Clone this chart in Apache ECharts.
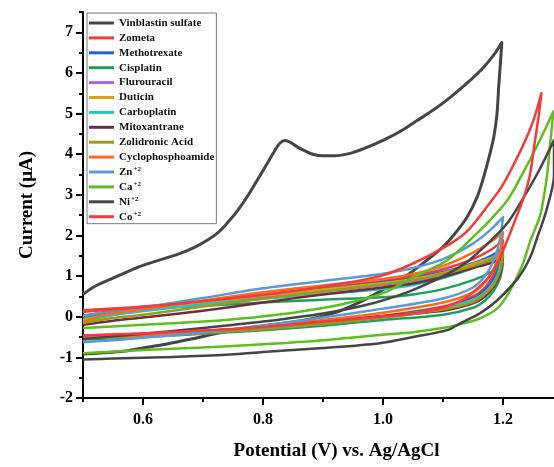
<!DOCTYPE html>
<html>
<head>
<meta charset="utf-8">
<script src="https://cdn.jsdelivr.net/npm/echarts@6/dist/echarts.min.js"></script>
<style>html,body{margin:0;padding:0;background:#fff}#c{width:554px;height:467px}</style>
</head>
<body>
<div id="c"></div>
<script>
// Each loop: forward (upper) scan then reverse (lower) scan, as [potential V, current µA]
const vinblastin = [[0.5,0.55],[0.52,0.75],[0.55,0.95],[0.58,1.15],[0.607,1.3],[0.635,1.43],[0.662,1.56],[0.685,1.7],[0.707,1.88],[0.725,2.07],[0.74,2.3],[0.757,2.6],[0.773,2.94],[0.79,3.35],[0.807,3.77],[0.818,4.05],[0.828,4.27],[0.837,4.34],[0.847,4.28],[0.857,4.18],[0.87,4.08],[0.883,4.0],[0.9,3.96],[0.92,3.96],[0.945,4.02],[0.97,4.15],[1.0,4.34],[1.03,4.57],[1.057,4.83],[1.085,5.1],[1.112,5.4],[1.14,5.75],[1.167,6.13],[1.185,6.45],[1.198,6.75],
  [1.196,6.3],[1.193,5.7],[1.19,5.0],[1.185,4.45],[1.178,4.0],[1.168,3.45],[1.157,2.95],[1.14,2.45],[1.12,2.05],[1.1,1.72],[1.067,1.32],[1.04,1.02],[1.012,0.77],[0.98,0.5],[0.95,0.28],[0.92,0.1],[0.883,-0.04],[0.84,-0.15],[0.8,-0.22],[0.762,-0.3],[0.72,-0.42],[0.68,-0.55],[0.64,-0.67],[0.6,-0.77],[0.567,-0.85],[0.53,-0.89],[0.5,-0.92]];
const zometa = [[0.5,0.16],[0.55,0.2],[0.6,0.25],[0.7,0.38],[0.8,0.53],[0.9,0.7],[1.0,0.88],[1.05,1.0],[1.1,1.17],[1.15,1.42],[1.18,1.65],[1.2,1.88],
  [1.195,1.45],[1.185,1.05],[1.17,0.72],[1.15,0.5],[1.1,0.25],[1.0,0.02],[0.9,-0.13],[0.8,-0.26],[0.7,-0.35],[0.6,-0.42],[0.5,-0.47]];
const methotrexate = [[0.5,0.03],[0.55,0.13],[0.6,0.2],[0.7,0.36],[0.8,0.52],[0.9,0.68],[1.0,0.85],[1.05,0.95],[1.1,1.1],[1.15,1.32],[1.18,1.5],[1.2,1.7],
  [1.195,1.3],[1.185,0.95],[1.17,0.66],[1.15,0.45],[1.1,0.22],[1.0,0.0],[0.9,-0.15],[0.8,-0.28],[0.7,-0.38],[0.6,-0.46],[0.5,-0.55]];
const cisplatin = [[0.5,-0.05],[0.55,0.12],[0.6,0.2],[0.7,0.27],[0.8,0.35],[0.9,0.42],[1.0,0.48],[1.05,0.55],[1.1,0.68],[1.15,0.9],[1.18,1.1],[1.2,1.3],
  [1.195,0.95],[1.185,0.65],[1.17,0.4],[1.15,0.22],[1.1,0.05],[1.0,-0.08],[0.9,-0.22],[0.8,-0.33],[0.7,-0.42],[0.6,-0.5],[0.5,-0.56]];
const flurouracil = [[0.5,-0.1],[0.55,0.05],[0.6,0.15],[0.7,0.32],[0.8,0.48],[0.9,0.62],[1.0,0.78],[1.05,0.88],[1.1,1.02],[1.15,1.22],[1.18,1.38],[1.2,1.5],
  [1.195,1.1],[1.185,0.8],[1.17,0.55],[1.15,0.38],[1.1,0.18],[1.0,-0.02],[0.9,-0.17],[0.8,-0.3],[0.7,-0.4],[0.6,-0.48],[0.5,-0.53]];
const duticin = [[0.5,-0.08],[0.55,0.08],[0.6,0.18],[0.7,0.35],[0.8,0.52],[0.9,0.67],[1.0,0.83],[1.05,0.93],[1.1,1.08],[1.15,1.3],[1.18,1.45],[1.2,1.6],
  [1.195,1.18],[1.185,0.85],[1.17,0.6],[1.15,0.42],[1.1,0.2],[1.0,0.0],[0.9,-0.16],[0.8,-0.29],[0.7,-0.39],[0.6,-0.47],[0.5,-0.52]];
const carboplatin = [[0.5,-0.12],[0.55,0.04],[0.6,0.14],[0.7,0.3],[0.8,0.44],[0.9,0.56],[1.0,0.68],[1.05,0.78],[1.1,0.95],[1.15,1.2],[1.18,1.42],[1.2,1.64],
  [1.195,1.2],[1.185,0.85],[1.17,0.58],[1.15,0.4],[1.1,0.2],[1.0,0.0],[0.9,-0.15],[0.8,-0.28],[0.7,-0.38],[0.6,-0.46],[0.5,-0.52]];
const mitoxantrane = [[0.5,-0.2],[0.55,-0.1],[0.6,-0.02],[0.7,0.15],[0.8,0.35],[0.9,0.55],[1.0,0.72],[1.05,0.82],[1.1,0.98],[1.15,1.2],[1.18,1.32],[1.2,1.45],
  [1.195,1.05],[1.185,0.75],[1.17,0.5],[1.15,0.33],[1.1,0.15],[1.0,0.02],[0.9,-0.12],[0.8,-0.25],[0.7,-0.36],[0.6,-0.45],[0.5,-0.5]];
const zolidronic = [[0.5,-0.15],[0.55,-0.03],[0.6,0.05],[0.7,0.25],[0.8,0.45],[0.9,0.62],[1.0,0.8],[1.05,0.9],[1.1,1.05],[1.15,1.25],[1.18,1.4],[1.2,1.56],
  [1.195,1.12],[1.185,0.8],[1.17,0.55],[1.15,0.36],[1.1,0.18],[1.0,-0.02],[0.9,-0.18],[0.8,-0.3],[0.7,-0.4],[0.6,-0.48],[0.5,-0.52]];
const cyclophosphoamide = [[0.5,-0.15],[0.52,-0.02],[0.55,0.08],[0.6,0.18],[0.7,0.4],[0.8,0.6],[0.9,0.77],[1.0,0.93],[1.05,1.05],[1.1,1.25],[1.15,1.58],[1.18,1.85],[1.2,2.08],
  [1.195,1.6],[1.185,1.2],[1.17,0.85],[1.15,0.6],[1.1,0.35],[1.0,0.1],[0.9,-0.08],[0.8,-0.24],[0.7,-0.36],[0.6,-0.45],[0.5,-0.5]];
const zinc = [[0.5,0.02],[0.55,0.15],[0.6,0.23],[0.7,0.46],[0.8,0.7],[0.9,0.88],[1.0,1.06],[1.05,1.2],[1.1,1.42],[1.15,1.8],[1.18,2.15],[1.2,2.45],
  [1.195,1.9],[1.185,1.4],[1.17,1.0],[1.15,0.72],[1.1,0.45],[1.0,0.2],[0.9,-0.02],[0.8,-0.22],[0.7,-0.38],[0.6,-0.52],[0.5,-0.63]];
const calcium = [[0.5,-0.28],[0.6,-0.2],[0.7,-0.12],[0.76,-0.05],[0.85,0.1],[0.93,0.3],[1.0,0.58],[1.05,0.97],[1.107,1.39],[1.162,2.13],[1.178,2.37],[1.207,2.86],[1.233,3.53],[1.26,4.3],[1.284,5.05],
  [1.278,4.17],[1.273,3.43],[1.262,2.5],[1.245,1.85],[1.233,1.3],[1.21,0.6],[1.19,0.2],[1.16,-0.05],[1.13,-0.18],[1.107,-0.26],[1.05,-0.38],[0.995,-0.45],[0.9,-0.58],[0.8,-0.68],[0.7,-0.76],[0.6,-0.82],[0.5,-0.9]];
const nickel = [[0.5,-0.55],[0.6,-0.42],[0.7,-0.28],[0.8,-0.12],[0.9,0.08],[0.98,0.32],[1.04,0.6],[1.08,0.85],[1.107,1.05],[1.14,1.35],[1.178,1.85],[1.207,2.3],[1.233,2.9],[1.26,3.6],[1.285,4.35],
  [1.285,3.5],[1.272,2.6],[1.257,1.95],[1.245,1.45],[1.225,0.95],[1.19,0.4],[1.162,0.09],[1.13,-0.15],[1.107,-0.33],[1.05,-0.5],[0.995,-0.65],[0.9,-0.77],[0.8,-0.87],[0.745,-0.93],[0.65,-0.99],[0.55,-1.03],[0.5,-1.05]];
const cobalt = [[0.5,0.12],[0.6,0.24],[0.7,0.38],[0.8,0.54],[0.9,0.74],[0.995,1.0],[1.05,1.31],[1.107,1.75],[1.14,2.1],[1.178,2.8],[1.2,3.25],[1.233,4.2],[1.25,4.8],[1.264,5.5],
  [1.26,5.0],[1.253,4.3],[1.245,3.5],[1.235,2.95],[1.22,2.37],[1.205,1.8],[1.19,1.3],[1.175,0.95],[1.15,0.6],[1.133,0.42],[1.1,0.22],[1.05,0.08],[0.995,0.0],[0.9,-0.12],[0.8,-0.25],[0.7,-0.34],[0.6,-0.41],[0.5,-0.46]];

const seriesNames = ['Vinblastin sulfate','Zometa','Methotrexate','Cisplatin','Flurouracil','Duticin','Carboplatin','Mitoxantrane','Zolidronic Acid','Cyclophosphoamide','Zn+2','Ca+2','Ni+2','Co+2'];
const seriesData = [vinblastin,zometa,methotrexate,cisplatin,flurouracil,duticin,carboplatin,mitoxantrane,zolidronic,cyclophosphoamide,zinc,calcium,nickel,cobalt];
const colors = ['#454545','#f23b3b','#2161d6','#1f9e5c','#b063e0','#d6a11c','#22c6c6','#6e2f3c','#9c9a1c','#ff6a1e','#5b9bd5','#5fbe1e','#454545','#f23b3b'];
const xLabelTicks = [0.6,0.8,1.0,1.2];
const xMinorTicks = [0.5,0.7,0.9,1.1];
const yLabelTicks = [-2,-1,0,1,2,3,4,5,6,7];
const yMinorTicks = [-1.5,-0.5,0.5,1.5,2.5,3.5,4.5,5.5,6.5,7.5];

const FONT = '"Liberation Serif","Times New Roman",serif';
const chart = echarts.init(document.getElementById('c'));
const grid = {left:83, right:0, top:12, bottom:69, containLabel:false};
const xBase = {type:'value', min:0.5, max:1.285, gridIndex:0};
const yBase = {type:'value', min:-2, max:7.5, gridIndex:0};
chart.setOption({
  animation:false,
  backgroundColor:'#fff',
  color: colors,
  grid: grid,
  legend: {
    orient:'vertical', left:87, top:13,
    itemWidth:25, itemHeight:3, itemGap:2.9, icon:'rect',
    padding:[4,2,1,2],
    borderColor:'#777', borderWidth:1,
    textStyle:{fontFamily:FONT, fontWeight:'bold', fontSize:11, color:'#111', lineHeight:12,
      rich:{b:{fontFamily:FONT, fontWeight:'bold', fontSize:11, color:'#111'},
            s:{fontFamily:FONT, fontWeight:'bold', fontSize:7, color:'#111', verticalAlign:'top', padding:[0,0,5,1]}}},
    formatter: function(n){ const m = n.match(/^(\w+)(\+2)$/); return m ? '{b|'+m[1]+'}{s|'+m[2]+'}' : n; },
    data: seriesNames
  },
  xAxis: [
    Object.assign({}, xBase, {
      position:'bottom',
      name:'Potential (V) vs. Ag/AgCl', nameLocation:'middle', nameGap:44,
      nameTextStyle:{fontFamily:FONT, fontWeight:'bold', fontSize:19, color:'#000', padding:[0,0,0,36]},
      axisLine:{onZero:false, lineStyle:{color:'#000', width:2}},
      axisTick:{show:true, inside:false, length:7, lineStyle:{color:'#000', width:2}, customValues:xLabelTicks},
      axisLabel:{fontFamily:FONT, fontWeight:'bold', fontSize:16, color:'#000', margin:14, customValues:xLabelTicks,
        formatter:function(v){return v.toFixed(1);}},
      splitLine:{show:false}
    }),
    Object.assign({}, xBase, {
      position:'bottom',
      axisLine:{show:false, onZero:false},
      axisTick:{show:true, inside:false, length:4, lineStyle:{color:'#000', width:2}, customValues:xMinorTicks},
      axisLabel:{show:false},
      splitLine:{show:false}
    })
  ],
  yAxis: [
    Object.assign({}, yBase, {
      position:'left',
      name:'Current (\u03BCA)', nameLocation:'middle', nameGap:46, nameRotate:90,
      nameTextStyle:{fontFamily:FONT, fontWeight:'bold', fontSize:19, color:'#000'},
      axisLine:{show:true, onZero:false, lineStyle:{color:'#000', width:2}},
      axisTick:{show:true, inside:false, length:7, lineStyle:{color:'#000', width:2}, customValues:yLabelTicks},
      axisLabel:{fontFamily:FONT, fontWeight:'bold', fontSize:16, color:'#000', margin:10, customValues:yLabelTicks},
      splitLine:{show:false}
    }),
    Object.assign({}, yBase, {
      position:'left',
      axisLine:{show:false, onZero:false},
      axisTick:{show:true, inside:false, length:4, lineStyle:{color:'#000', width:2}, customValues:yMinorTicks},
      axisLabel:{show:false},
      splitLine:{show:false}
    })
  ],
  series: seriesNames.map(function(name, i){
    return {
      name:name, type:'line', xAxisIndex:0, yAxisIndex:0,
      data: seriesData[i],
      showSymbol:false, symbol:'none', smooth:0.3,
      lineStyle:{width: i===0 ? 3 : 2.5, color: colors[i], join:'round'},
      itemStyle:{color: colors[i]},
      emphasis:{disabled:true}
    };
  })
});
</script>
</body>
</html>
